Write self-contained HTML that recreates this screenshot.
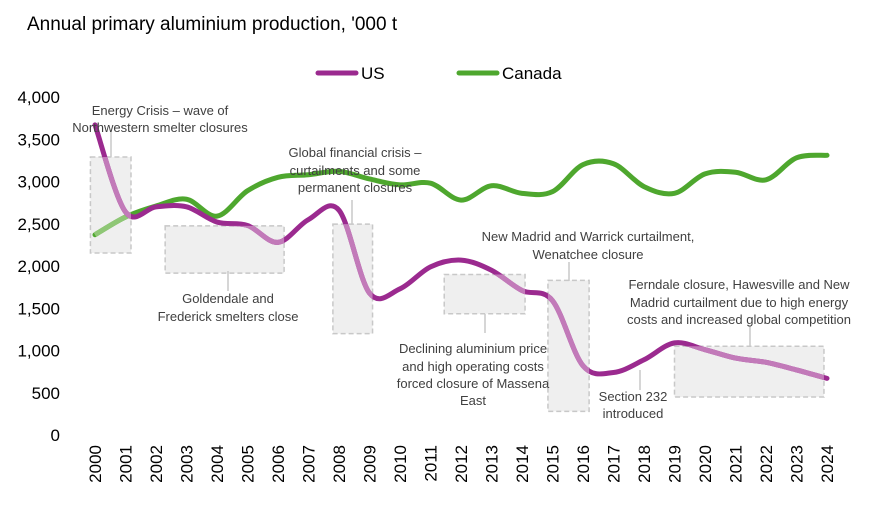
<!DOCTYPE html>
<html><head><meta charset="utf-8"><style>
body{margin:0;background:#fff;}
svg{display:block;font-family:"Liberation Sans",Arial,sans-serif;}
.ann{font-size:13px;fill:#404040;}
.tick{font-size:17px;fill:#000;}
</style></head><body>
<svg id="chart" width="877" height="519" viewBox="0 0 877 519">
<text x="27" y="30" font-size="19" fill="#000">Annual primary aluminium production, '000 t</text>
<g>
<line x1="318" y1="73" x2="356" y2="73" stroke="#9b2a8f" stroke-width="5" stroke-linecap="round"/>
<text x="361" y="79" font-size="17">US</text>
<line x1="459" y1="73" x2="497" y2="73" stroke="#4ea72e" stroke-width="5" stroke-linecap="round"/>
<text x="502" y="79" font-size="17">Canada</text>
</g>
<g id="boxes"></g>
<g id="axes"></g>
<g id="series"></g>
<g id="anns"></g>
</svg>
<script>
const years=[2000,2001,2002,2003,2004,2005,2006,2007,2008,2009,2010,2011,2012,2013,2014,2015,2016,2017,2018,2019,2020,2021,2022,2023,2024];
const usValues=[3670,2640,2700,2700,2520,2480,2280,2550,2660,1680,1730,1990,2070,1950,1710,1590,820,740,890,1090,1010,910,860,770,670];
const canadaValues=[2370,2580,2710,2790,2590,2890,3050,3080,3120,3030,2960,2980,2780,2950,2860,2880,3200,3210,2940,2860,3090,3110,3020,3280,3310];
const yTicks=[0,500,1000,1500,2000,2500,3000,3500,4000];
const NS="http://www.w3.org/2000/svg";
function xS(y){return 95+(y-2000)*30.5;}
function yS(v){return 435-v*0.0845;}
function mk(tag,attrs,parent){const e=document.createElementNS(NS,tag);for(const k in attrs)e.setAttribute(k,attrs[k]);parent.appendChild(e);return e;}
const axes=document.getElementById('axes');
yTicks.forEach(t=>{const e=mk('text',{x:60,y:yS(t)+6,'text-anchor':'end',class:'tick'},axes);


e.textContent=t.toLocaleString('en-US');});
years.forEach(yr=>{const x=xS(yr)+6;const e=mk('text',{x:x,y:445,'text-anchor':'end',class:'tick',transform:`rotate(-90 ${x} 445)`},axes);


e.textContent=yr;});
const boxes=[[1999.85,2154,2001.18,3290],[2002.3,1915,2006.2,2475],[2007.8,1200,2009.1,2495],[2011.45,1435,2014.1,1900],[2014.85,280,2016.2,1830],[2019.0,450,2023.9,1050]];
const bg=document.getElementById('boxes');
const defs=mk('defs',{},bg);const cp=mk('clipPath',{id:'boxclip'},defs);
boxes.forEach(b=>{const r={x:xS(b[0]),y:yS(b[3]),width:xS(b[2])-xS(b[0]),height:yS(b[1])-yS(b[3])};
const e=mk('rect',Object.assign({fill:'#efefef',stroke:'#c8c8c8','stroke-width':1.5,'stroke-dasharray':'5 3'},r),bg);


mk('rect',r,cp);});
function pathD(vals){const p=vals.map((v,i)=>[xS(years[i]),yS(v)]);let d=`M${p[0][0]},${p[0][1]}`;
for(let i=0;i<p.length-1;i++){const p0=p[Math.max(0,i-1)],p1=p[i],p2=p[i+1],p3=p[Math.min(p.length-1,i+2)];
const c1=[p1[0]+(p2[0]-p0[0])/6,p1[1]+(p2[1]-p0[1])/6],c2=[p2[0]-(p3[0]-p1[0])/6,p2[1]-(p3[1]-p1[1])/6];
d+=`C${c1[0]},${c1[1]} ${c2[0]},${c2[1]} ${p2[0]},${p2[1]}`;}return d;}
const sg=document.getElementById('series');
[[canadaValues,'#4ea72e','#8fc776','canada'],[usValues,'#9b2a8f','#c27ab9','us']].forEach(s=>{
const d=pathD(s[0]);
const a=mk('path',{d:d,fill:'none',stroke:s[1],'stroke-width':5,'stroke-linecap':'round'},sg);


const b=mk('path',{d:d,fill:'none',stroke:s[2],'stroke-width':5,'clip-path':'url(#boxclip)'},sg);

});
const an=document.getElementById('anns');
const leaders=[[111,130,111,157],[228,271,228,291],[352,200,352,224],[485,314,485,333],[569,262,569,281],[640,370,640,390],[750,326,750,347]];
leaders.forEach(l=>{const e=mk('line',{x1:l[0],y1:l[1],x2:l[2],y2:l[3],stroke:'#c8c8c8','stroke-width':1.5},an);

});
const notes=[[160,[115,132],['Energy Crisis – wave of','Northwestern smelter closures']],
[228,[303,321],['Goldendale and','Frederick smelters close']],
[355,[157,175,192],['Global financial crisis –','curtailments and some','permanent closures']],
[473,[353,371,388,405],['Declining aluminium price','and high operating costs','forced closure of Massena','East']],
[588,[241,259],['New Madrid and Warrick curtailment,','Wenatchee closure']],
[633,[401,418],['Section 232','introduced']],
[739,[289,307,324],['Ferndale closure, Hawesville and New','Madrid curtailment due to high energy','costs and increased global competition']]];
notes.forEach(n=>{const t=mk('text',{'text-anchor':'middle',class:'ann'},an);


n[2].forEach((line,i)=>{const ts=mk('tspan',{x:n[0],y:n[1][i]},t);ts.textContent=line;});});
</script>
</body></html>
